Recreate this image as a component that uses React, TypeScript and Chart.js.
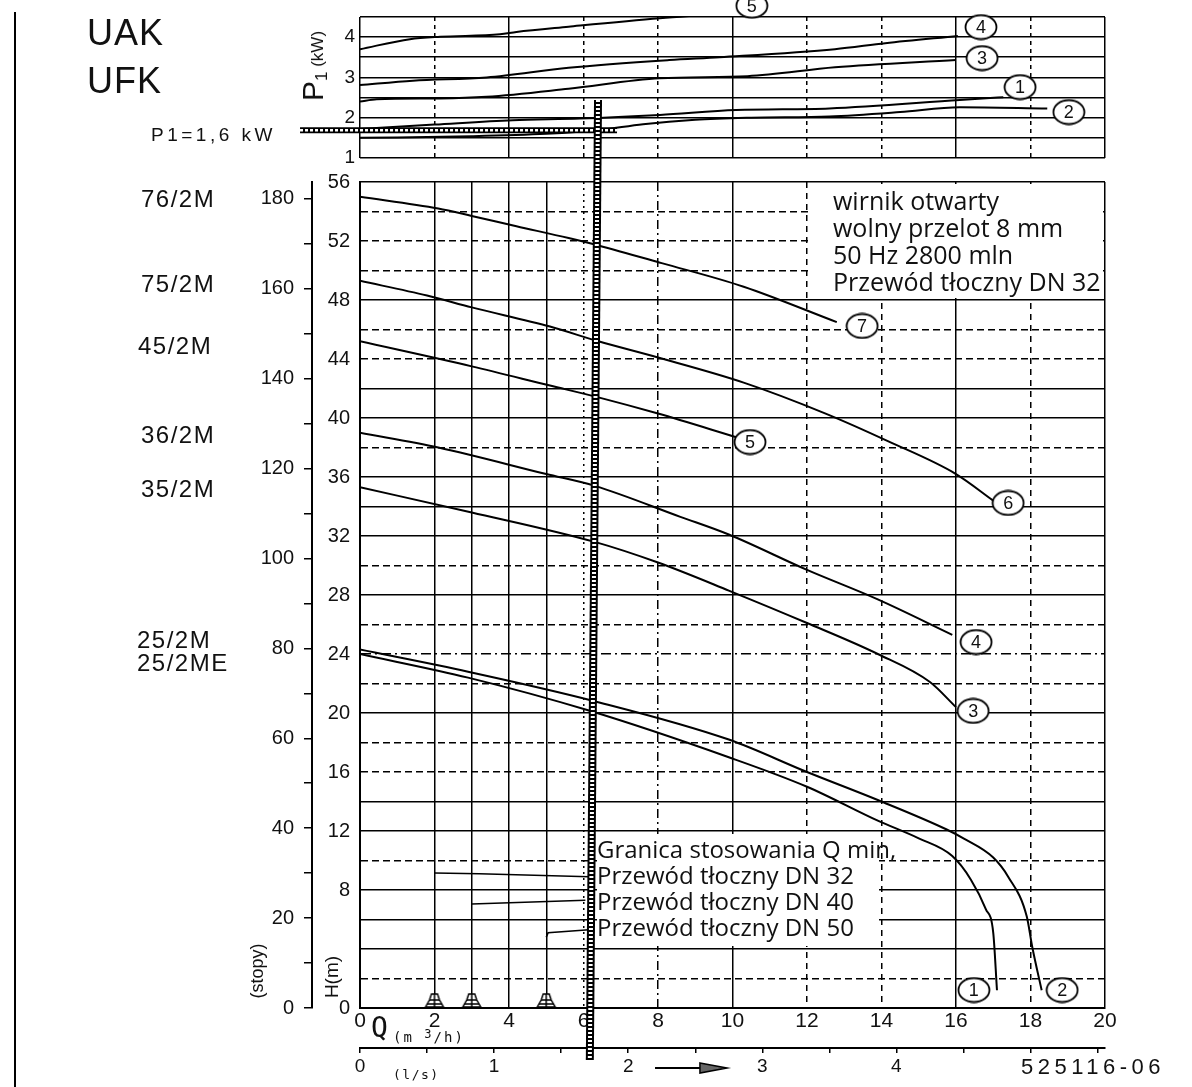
import React, { useEffect, useRef } from 'react';
import { Chart, registerables } from 'chart.js';

Chart.register(...registerables);

// ---------------- data ----------------
// flow axis Q (m3/h)
const qGridValues = [0, 2, 3, 4, 5, 6, 8, 10, 12, 14, 16, 18, 20];
const qLabelValues = [0, 2, 4, 6, 8, 10, 12, 14, 16, 18, 20];
// head axis H (m)
const hGridValues = [0, 2, 4, 6, 8, 10, 12, 14, 16, 18, 20, 22, 24, 26, 28, 30, 32, 34, 36, 38, 40, 42, 44, 46, 48, 50, 52, 54, 56];
const hLabelValues = [0, 8, 12, 16, 20, 24, 28, 32, 36, 40, 44, 48, 52, 56];
// head axis in feet
const ftTickValues = [0, 10, 20, 30, 40, 50, 60, 70, 80, 90, 100, 110, 120, 130, 140, 150, 160, 170, 180];
const ftLabelValues = [0, 20, 40, 60, 80, 100, 120, 140, 160, 180];
// flow axis in l/s
const lsTickValues = [0, 0.5, 1, 1.5, 2, 2.5, 3, 3.5, 4, 4.5, 5, 5.5];
const lsLabelValues = [0, 1, 2, 3, 4];
// power panel P1 (kW)
const p1GridValues = [1, 1.5, 2, 2.5, 3, 3.5, 4, 4.5];
const p1LabelValues = [1, 2, 3, 4];
const p1QGridValues = [0, 2, 4, 6, 8, 10, 12, 14, 16, 18, 20];

// H(Q) curves
const q7 = [0, 2.1, 3.0, 4.2, 5.6, 6.4, 8.1, 10.3, 12.8];
const h7 = [55.0, 54.2, 53.7, 53.0, 52.2, 51.7, 50.5, 48.9, 46.5];
const q6 = [0, 1.8, 3.0, 5.1, 6.4, 8.0, 10.3, 12.5, 14.2, 16.0, 17.0];
const h6 = [49.3, 48.3, 47.5, 46.2, 45.2, 44.1, 42.4, 40.3, 38.4, 36.2, 34.4];
const q5 = [0, 3.0, 5.1, 6.4, 8.0, 10.1];
const h5 = [45.2, 43.5, 42.2, 41.4, 40.3, 38.7];
const q4 = [0, 2.1, 5.0, 6.3, 8.6, 9.9, 12.0, 13.9, 15.9];
const h4 = [39.0, 38.0, 36.2, 35.4, 33.3, 32.1, 29.7, 27.7, 25.3];
const q3 = [0, 3.0, 6.3, 8.0, 9.9, 12.0, 13.9, 15.3, 16.0];
const h3 = [35.3, 33.6, 31.6, 30.2, 28.3, 26.1, 24.0, 22.1, 20.4];
const q2 = [0, 2.9, 6.3, 9.9, 12.0, 13.9, 15.75, 16.2, 17.0, 17.4, 17.9, 18.05, 18.3];
const h2 = [24.3, 22.8, 20.8, 18.2, 16.0, 14.1, 12.1, 11.5, 10.2, 8.9, 6.2, 4.1, 1.2];
const q1 = [0, 2.9, 6.1, 9.9, 12.0, 13.9, 15.0, 15.9, 16.4, 16.8, 17.0, 17.1];
const h1 = [24.0, 22.4, 20.2, 17.0, 15.0, 12.7, 11.5, 10.3, 8.7, 6.7, 5.1, 1.2];

// curve number markers (main panel)
const mainCircleText = ['7', '6', '5', '4', '3', '1', '2'];
const mainCircleQ = [13.48, 17.4, 10.47, 16.54, 16.46, 16.48, 18.85];
const mainCircleH = [46.24, 34.24, 38.37, 24.81, 20.14, 1.22, 1.22];

// P1(Q) curves
const pq5 = [0, 1.34, 2.15, 3.76, 4.2, 5.6, 8.05, 9.84];
const pp5 = [3.7, 3.95, 4.01, 4.07, 4.13, 4.26, 4.47, 4.59];
const pq4 = [0, 1.42, 3.4, 5.6, 8.3, 9.66, 12.75, 14.1, 16.05];
const pp4 = [2.81, 2.92, 3.0, 3.24, 3.43, 3.5, 3.7, 3.85, 4.03];
const pq3 = [0, 0.45, 2.15, 3.4, 5.6, 8.05, 10.4, 12.75, 16.0];
const pp3 = [2.4, 2.46, 2.48, 2.52, 2.72, 2.98, 3.03, 3.25, 3.43];
const pq1 = [0, 2, 4.1, 5.9, 8.05, 10.1, 12.6, 16.1, 17.27];
const pp1 = [1.72, 1.83, 1.94, 1.98, 2.07, 2.19, 2.23, 2.44, 2.51];
const pq2 = [0, 3, 5, 6.4, 7.6, 9, 10.5, 12.6, 14.5, 16.1, 18.45];
const pp2 = [1.5, 1.54, 1.6, 1.69, 1.84, 1.95, 2.0, 2.03, 2.14, 2.26, 2.23];

const p1CircleText = ['5', '4', '3', '1', '2'];
const p1CircleQ = [10.52, 16.67, 16.7, 17.72, 19.03];
const p1CircleP = [4.78, 4.25, 3.48, 2.76, 2.14];

// duty point annotation (Q ~ 6.3 m3/h, P1 = 1,6 kW)
const dutyQ = [6.39, 6.17];
const dutyH = [61.56, -3.53];
const dutyP1Q = [-1.61, 6.9];
const dutyP1 = [1.69, 1.69];

// minimum flow limits for delivery pipes DN 32 / 40 / 50
const qMinDN = [2, 3, 5];
const lead32Q = [2, 3.2, 6.15];
const lead32H = [9.15, 9.1, 8.9];
const lead40Q = [3, 6.05];
const lead40H = [7.05, 7.3];
const lead50Q = [5, 5.05, 6.15];
const lead50H = [4.8, 5.1, 5.3];

const models = ['76/2M', '75/2M', '45/2M', '36/2M', '35/2M', '25/2M', '25/2ME'];

// ---------------- layout / style ----------------
const PAGE_W = 1192;
const PAGE_H = 1087;
const MAIN = { left: 360, right: 1105, top: 182, bottom: 1008 };
const TOPP = { left: 360, right: 1105, top: 17, bottom: 158 };
const MODEL_POS = [[141, 187], [141, 272], [138, 334], [141, 423], [141, 477], [137, 628], [137, 651]];
const TEXT = '#111';
const LIB = '"Liberation Sans", Arial, sans-serif';
const MONO = '"DejaVu Sans Mono", monospace';
const OPEN = '"Open Sans", sans-serif';

const H_SOLID = new Set([0, 4, 6, 8, 12, 14, 20, 28, 32, 34, 36, 40, 42, 48, 56]);
const hDash = (v: number) => (H_SOLID.has(v) ? [] : v === 24 ? [10, 4, 2, 4] : [7, 4]);
const Q_SOLID = new Set([0, 2, 3, 4, 5, 10, 16, 20]);
const qDash = (v: number) => (Q_SOLID.has(v) ? [] : v === 6 ? [2, 4] : v === 8 ? [9, 4, 2, 4] : [6, 5]);
const PQ_SOLID = new Set([0, 4, 10, 16, 20]);
const pqDash = (v: number) => (PQ_SOLID.has(v) ? [] : [4, 4]);

const pts = (xs: number[], ys: number[]) => xs.map((x, i) => ({ x, y: ys[i] }));
const setTicks = (vals: number[]) => (s: any) => {
  s.ticks = vals.map((v) => ({ value: v }));
};
const labelIf = (vals: number[]) => (v: any) => (vals.includes(Number(v)) ? String(v) : '');

const curve = (xs: number[], ys: number[], extra: any = {}) => ({
  data: pts(xs, ys),
  borderColor: '#000',
  borderWidth: 2,
  pointRadius: 0,
  fill: false,
  cubicInterpolationMode: 'monotone',
  order: 5,
  ...extra,
});
const straight = (xs: number[], ys: number[], extra: any = {}) => ({
  data: pts(xs, ys),
  borderColor: '#000',
  borderWidth: 1.6,
  pointRadius: 0,
  fill: false,
  tension: 0,
  order: 4,
  ...extra,
});

function makeEllipse() {
  const w = 32, h = 25;
  const c = document.createElement('canvas');
  c.width = w + 2;
  c.height = h + 2;
  const g = c.getContext('2d')!;
  g.fillStyle = '#fff';
  g.strokeStyle = '#000';
  g.lineWidth = 1.8;
  g.beginPath();
  g.ellipse((w + 2) / 2, (h + 2) / 2, w / 2 - 0.5, h / 2 - 0.5, 0, 0, Math.PI * 2);
  g.fill();
  g.stroke();
  return c;
}

function makeBell() {
  const c = document.createElement('canvas');
  c.width = 22;
  c.height = 34;
  const g = c.getContext('2d')!;
  g.strokeStyle = '#000';
  g.fillStyle = '#fff';
  g.lineWidth = 1.5;
  g.beginPath();
  g.moveTo(2, 16);
  g.lineTo(6, 9);
  g.lineTo(8, 3);
  g.lineTo(14, 3);
  g.lineTo(16, 9);
  g.lineTo(20, 16);
  g.closePath();
  g.fill();
  g.stroke();
  g.beginPath();
  g.moveTo(6, 9);
  g.lineTo(16, 9);
  g.moveTo(4, 13);
  g.lineTo(18, 13);
  g.moveTo(11, 3);
  g.lineTo(11, 16);
  g.stroke();
  return c;
}

const circleNumbers = {
  id: 'circleNumbers',
  afterDatasetsDraw(chart: any) {
    const ctx = chart.ctx;
    chart.data.datasets.forEach((ds: any, i: number) => {
      if (!ds.circleText) return;
      const meta = chart.getDatasetMeta(i);
      ctx.save();
      ctx.font = '18px "Liberation Sans"';
      ctx.fillStyle = TEXT;
      ctx.textAlign = 'center';
      ctx.textBaseline = 'middle';
      meta.data.forEach((el: any, j: number) => ctx.fillText(ds.circleText[j], el.x, el.y + 1));
      ctx.restore();
    });
  },
};

const lsArrow = {
  id: 'lsArrow',
  afterDraw(chart: any) {
    const s = chart.scales.xls;
    if (!s) return;
    const ctx = chart.ctx;
    const x0 = s.getPixelForValue(2.2);
    const x1 = s.getPixelForValue(2.535);
    const x2 = s.getPixelForValue(2.737);
    const y = s.top + 20;
    ctx.save();
    ctx.strokeStyle = '#000';
    ctx.lineWidth = 2;
    ctx.beginPath();
    ctx.moveTo(x0, y);
    ctx.lineTo(x1, y);
    ctx.stroke();
    ctx.fillStyle = '#666';
    ctx.lineWidth = 1.5;
    ctx.beginPath();
    ctx.moveTo(x1, y - 5);
    ctx.lineTo(x2, y);
    ctx.lineTo(x1, y + 5);
    ctx.closePath();
    ctx.fill();
    ctx.stroke();
    ctx.restore();
  },
};

function topConfig(ell: HTMLCanvasElement): any {
  return {
    type: 'line',
    data: {
      datasets: [
        curve(pq5, pp5),
        curve(pq4, pp4),
        curve(pq3, pp3),
        curve(pq1, pp1),
        curve(pq2, pp2),
        {
          data: pts(p1CircleQ, p1CircleP),
          showLine: false,
          pointStyle: ell,
          pointRadius: 12,
          clip: false,
          order: 1,
          circleText: p1CircleText,
        },
        straight(dutyP1Q, dutyP1, { borderWidth: 6, clip: false, order: 0 }),
        straight(dutyP1Q, dutyP1, { borderWidth: 2.5, borderColor: '#fff', borderDash: [3, 2], clip: false, order: -1 }),
      ],
    },
    options: {
      responsive: false,
      animation: false,
      events: [],
      layout: {
        autoPadding: false,
        padding: { left: TOPP.left - 60, top: TOPP.top, right: PAGE_W - TOPP.right, bottom: PAGE_H - TOPP.bottom },
      },
      plugins: { legend: { display: false }, tooltip: { enabled: false } },
      scales: {
        x: {
          type: 'linear',
          min: 0,
          max: 20,
          afterBuildTicks: setTicks(p1QGridValues),
          ticks: { display: false },
          grid: { color: '#000', lineWidth: 1.5, drawTicks: false },
          border: { display: false, dash: (c: any) => (c.tick ? pqDash(c.tick.value) : []) },
          afterFit: (s: any) => { s.height = 0; },
        },
        y: {
          type: 'linear',
          min: 1,
          max: 4.5,
          afterBuildTicks: setTicks(p1GridValues),
          ticks: {
            callback: labelIf(p1LabelValues),
            font: { family: LIB, size: 19 },
            color: TEXT,
            padding: 5,
            autoSkip: false,
          },
          grid: { color: '#000', lineWidth: 1.6, drawTicks: false },
          border: { display: false },
          afterFit: (s: any) => { s.width = 60; },
        },
      },
    },
    plugins: [circleNumbers],
  };
}

function mainConfig(ell: HTMLCanvasElement, bell: HTMLCanvasElement): any {
  return {
    type: 'line',
    data: {
      datasets: [
        curve(q7, h7),
        curve(q6, h6),
        curve(q5, h5),
        curve(q4, h4),
        curve(q3, h3),
        curve(q2, h2),
        curve(q1, h1),
        straight(lead32Q, lead32H),
        straight(lead40Q, lead40H),
        straight(lead50Q, lead50H),
        {
          data: pts(mainCircleQ, mainCircleH),
          showLine: false,
          pointStyle: ell,
          pointRadius: 12,
          clip: false,
          order: 1,
          circleText: mainCircleText,
        },
        {
          data: pts(qMinDN, qMinDN.map(() => 0)),
          showLine: false,
          pointStyle: bell,
          pointRadius: 10,
          clip: false,
          order: 1,
        },
        straight(dutyQ, dutyH, { borderWidth: 8, clip: false, order: 0 }),
        straight(dutyQ, dutyH, { borderWidth: 4, borderColor: '#fff', borderDash: [2, 2], clip: false, order: -1 }),
      ],
    },
    options: {
      responsive: false,
      animation: false,
      events: [],
      layout: {
        autoPadding: false,
        padding: { left: 312 - 60, top: MAIN.top, right: PAGE_W - MAIN.right, bottom: PAGE_H - (MAIN.bottom + 70) },
      },
      plugins: { legend: { display: false }, tooltip: { enabled: false } },
      scales: {
        x: {
          type: 'linear',
          position: 'bottom',
          min: 0,
          max: 20,
          afterBuildTicks: setTicks(qGridValues),
          ticks: {
            callback: labelIf(qLabelValues),
            font: { family: LIB, size: 21 },
            color: TEXT,
            padding: 1,
            autoSkip: false,
            maxRotation: 0,
            minRotation: 0,
          },
          grid: { color: '#000', lineWidth: 1.5, drawTicks: false },
          border: { display: true, color: '#000', width: 2, dash: (c: any) => (c.tick ? qDash(c.tick.value) : []) },
          afterFit: (s: any) => { s.height = 40; },
        },
        xls: {
          type: 'linear',
          position: 'bottom',
          min: 0,
          max: 20 / 3.6,
          afterBuildTicks: setTicks(lsTickValues),
          ticks: {
            callback: labelIf(lsLabelValues),
            font: { family: LIB, size: 19 },
            color: TEXT,
            padding: 2,
            autoSkip: false,
            maxRotation: 0,
            minRotation: 0,
          },
          grid: { drawOnChartArea: false, drawTicks: true, tickLength: 5, color: '#000', lineWidth: 1.5 },
          border: { display: true, color: '#000', width: 2 },
          afterFit: (s: any) => { s.height = 30; },
        },
        y: {
          type: 'linear',
          position: 'left',
          min: 0,
          max: 56,
          afterBuildTicks: setTicks(hGridValues),
          ticks: {
            callback: labelIf(hLabelValues),
            font: { family: LIB, size: 20 },
            color: TEXT,
            padding: 10,
            autoSkip: false,
          },
          grid: { color: '#000', lineWidth: 1.5, drawTicks: false },
          border: { display: true, color: '#000', width: 2, dash: (c: any) => (c.tick ? hDash(c.tick.value) : []) },
          afterFit: (s: any) => { s.width = 48; },
        },
        yft: {
          type: 'linear',
          position: 'left',
          min: 0,
          max: 56 * 3.28084,
          afterBuildTicks: setTicks(ftTickValues),
          ticks: {
            callback: labelIf(ftLabelValues),
            font: { family: LIB, size: 20 },
            color: TEXT,
            padding: 10,
            autoSkip: false,
          },
          grid: { drawOnChartArea: false, drawTicks: true, tickLength: 8, color: '#000', lineWidth: 1.5 },
          border: { display: true, color: '#000', width: 2 },
          afterFit: (s: any) => { s.width = 60; },
        },
      },
    },
    plugins: [circleNumbers, lsArrow],
  };
}

function Txt(props: { x: number; y: number; size: number; font?: string; ls?: number; lh?: number; children: any; style?: any }) {
  const { x, y, size, font = LIB, ls = 0, lh, children, style } = props;
  return (
    <div
      style={{
        position: 'absolute',
        left: x,
        top: y,
        fontFamily: font,
        fontSize: size,
        lineHeight: `${lh ?? size}px`,
        letterSpacing: ls,
        color: TEXT,
        whiteSpace: 'nowrap',
        ...style,
      }}
    >
      {children}
    </div>
  );
}

function Rot(props: { cx: number; cy: number; children: any; style?: any }) {
  return (
    <div
      style={{
        position: 'absolute',
        left: props.cx,
        top: props.cy,
        transform: 'translate(-50%, -50%) rotate(-90deg)',
        whiteSpace: 'nowrap',
        color: TEXT,
        fontFamily: LIB,
        lineHeight: 1,
        ...props.style,
      }}
    >
      {props.children}
    </div>
  );
}

export default function App() {
  const refA = useRef<HTMLCanvasElement>(null);
  const refB = useRef<HTMLCanvasElement>(null);

  useEffect(() => {
    const ell = makeEllipse();
    const bell = makeBell();
    const a = new Chart(refA.current!, topConfig(ell));
    const b = new Chart(refB.current!, mainConfig(ell, bell));
    return () => {
      a.destroy();
      b.destroy();
    };
  }, []);

  return (
    <div style={{ position: 'fixed', left: 0, top: 0, width: PAGE_W, height: PAGE_H, background: '#fff', overflow: 'hidden' }}>
      <canvas ref={refA} width={PAGE_W} height={PAGE_H} style={{ position: 'absolute', left: 0, top: 0 }} />
      <canvas ref={refB} width={PAGE_W} height={PAGE_H} style={{ position: 'absolute', left: 0, top: 0 }} />

      {/* scan page edge */}
      <div style={{ position: 'absolute', left: 14, top: 12, width: 2, height: PAGE_H - 12, background: '#000' }} />

      <Txt x={87} y={15} size={36} ls={1}>UAK</Txt>
      <Txt x={87} y={63} size={36} ls={1}>UFK</Txt>
      <Txt x={151} y={125} size={19} ls={3.5}>P1=1,6 kW</Txt>

      <Rot cx={313} cy={66}>
        <span style={{ fontSize: 30 }}>P</span>
        <span style={{ fontSize: 17, position: 'relative', top: 4 }}>1</span>
        <span style={{ fontSize: 17 }}> (kW)</span>
      </Rot>
      <Rot cx={331} cy={977} style={{ fontSize: 19 }}>H(m)</Rot>
      <Rot cx={257} cy={971} style={{ fontSize: 18 }}>(stopy)</Rot>

      {models.map((m, i) => (
        <Txt key={m} x={MODEL_POS[i][0]} y={MODEL_POS[i][1]} size={24} ls={1.5}>
          {m}
        </Txt>
      ))}

      {/* info box */}
      <div style={{ position: 'absolute', left: 810, top: 184, width: 293, height: 114, background: '#fff' }} />
      <Txt x={833} y={187} size={25} lh={27} font={OPEN}>
        wirnik otwarty
        <br />
        wolny przelot 8 mm
        <br />
        50 Hz 2800 mln
        <br />
        Przewód tłoczny DN 32
      </Txt>

      {/* minimum flow box */}
      <div style={{ position: 'absolute', left: 597, top: 834, width: 282, height: 112, background: '#fff' }} />
      <Txt x={597} y={836} size={24} lh={26} font={OPEN}>
        Granica stosowania Q min,
        <br />
        Przewód tłoczny DN 32
        <br />
        Przewód tłoczny DN 40
        <br />
        Przewód tłoczny DN 50
      </Txt>

      <Txt x={371} y={1014} size={28} font={MONO}>Q</Txt>
      <Txt x={393} y={1030} size={14} ls={2} font={MONO}>
        (m <span style={{ fontSize: 12, position: 'relative', top: -4 }}>3</span>/h)
      </Txt>
      <Txt x={393} y={1068} size={13} ls={1.5} font={MONO}>(l/s)</Txt>
      <Txt x={1021} y={1056} size={22} ls={4.5}>525116-06</Txt>
    </div>
  );
}
